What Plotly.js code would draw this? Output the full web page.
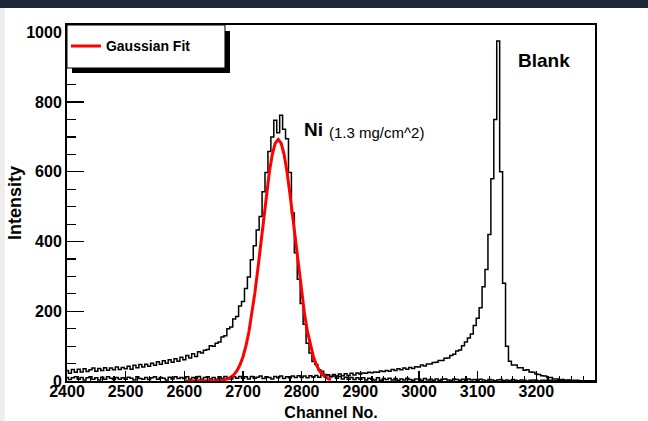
<!DOCTYPE html>
<html>
<head>
<meta charset="utf-8">
<script src="https://cdn.plot.ly/plotly-3.0.1.min.js"></script>
<style>html,body{margin:0;padding:0;background:#fff;}#chart{width:648px;height:421px;}</style>
</head>
<body>
<div id="chart"></div>
<script>
// Channel binning of the spectra (start channel, bin width)
const channelStart = 2400;
const channelStep = 5;

// Ni (1.3 mg/cm^2) spectrum, 2400..3300 in steps of 5 channels
const niCounts = [
  30,22,33,25,34,26,35,27,32,37, 28,36,30,38,31,37,32,40,33,39,
  35,42,34,45,38,47,40,48,42,51, 45,55,48,58,51,61,54,64,57,68,
  61,73,66,78,70,84,80,88,90,101, 100,108,112,126,130,150,155,178,185,215,
  228,265,298,348,388,433,472,543,598,658, 700,748,712,762,722,695,598,482,368,292,
  222,163,108,80,56,47,32,28,19,18, 12,14,8,13,6,11,5,10,4,9,
  5,9,3,8,5,3,9,2,7,4, 8,3,7,2,6,3,8,4,2,6,
  6,2,7,3,5,2,6,2,5,6, 3,2,6,4,2,5,2,6,3,4,
  2,5,3,1,4,3,1,3,4,1, 3,1,4,2,1,3,2,0,2,3,
  2,0,2,2,1,2,0,1,2,1, 1,2,0,1,0,1,1,0,1,0,
  1
];

// Blank spectrum, 2400..3300 in steps of 5 channels
const blankCounts = [
  10,4,9,12,5,10,3,9,12,5, 9,3,11,5,12,8,4,10,5,9,
  5,11,8,3,12,7,5,10,4,9, 12,5,10,8,3,11,6,12,7,10,
  7,12,5,10,7,13,5,10,12,6, 10,5,12,7,13,9,6,12,8,13,
  8,12,6,13,8,11,14,7,12,10, 6,13,9,14,7,12,9,14,10,15,
  10,14,9,15,11,16,11,17,12,18, 13,19,14,20,15,21,16,22,17,23,
  20,23,22,25,24,26,25,29,27,30, 28,33,30,35,32,37,34,39,36,41,
  40,46,43,49,49,53,54,59,59,65, 66,73,77,86,89,101,112,123,135,159,
  180,210,270,320,420,580,750,975,600,280, 100,57,46,46,38,38,31,32,26,25,
  20,19,15,14,10,10,6,6,3,4, 2,3,1,2,2,1,1,0,1,0,
  0
];

// Gaussian fit of the Ni peak, 2600..2850 in steps of 5 channels
const fitStart = 2600;
const fitValues = [
  0,0,0,0,0,0,0,0.03,0.07,0.15,
  0.31,0.63,1.2,2.2,3.9,6.9,11.7,19.1,30.4,46.7,
  69.7,100.6,140.7,190.5,249.8,317.2,390.1,464.8,537,600,
  650,682,693,682,650,600,537,464.8,390.1,317.2,
  249.8,190.5,140.7,100.6,69.7,46.7,30.4,19.1,11.7,6.9,
  3.9
];

const xTickVals = [2400,2500,2600,2700,2800,2900,3000,3100,3200];
const yTickVals = [0,200,400,600,800,1000];

const FONT = '"Liberation Sans", Arial, sans-serif';

const traces = [
  {x0: channelStart, dx: channelStep, y: niCounts, type: 'scatter', mode: 'lines',
   line: {color: '#000', width: 1.5, shape: 'hvh'}, showlegend: false, name: 'Ni'},
  {x0: channelStart, dx: channelStep, y: blankCounts, type: 'scatter', mode: 'lines',
   line: {color: '#000', width: 1.5, shape: 'hvh'}, showlegend: false, name: 'Blank'},
  {x0: fitStart, dx: channelStep, y: fitValues, type: 'scatter', mode: 'lines',
   line: {color: '#ff0000', width: 3}, name: 'Gaussian Fit'}
];

const layout = {
  width: 648, height: 421,
  margin: {l: 67, r: 53, t: 25, b: 40},
  paper_bgcolor: '#fff', plot_bgcolor: '#fff',
  font: {family: FONT, color: '#000'},
  xaxis: {
    range: [2400, 3300], tickmode: 'array', tickvals: xTickVals,
    ticks: 'inside', ticklen: 10, tickwidth: 1.2, tickcolor: '#000',
    minor: {dtick: 20, ticks: 'inside', ticklen: 5, tickwidth: 1.2, tickcolor: '#000'},
    showline: true, linecolor: '#000', linewidth: 2, mirror: true,
    showgrid: false, zeroline: false, ticklabelstandoff: -5,
    tickfont: {family: FONT, size: 16, weight: 'bold', color: '#000'},
    title: {text: 'Channel No.', font: {family: FONT, size: 16, weight: 'bold', color: '#000'}, standoff: 9}
  },
  yaxis: {
    range: [0, 1021], tickmode: 'array', tickvals: yTickVals,
    ticks: 'inside', ticklen: 17, tickwidth: 1.2, tickcolor: '#000',
    minor: {dtick: 50, ticks: 'inside', ticklen: 9, tickwidth: 1.2, tickcolor: '#000'},
    showline: true, linecolor: '#000', linewidth: 2, mirror: true,
    showgrid: false, zeroline: false,
    tickfont: {family: FONT, size: 16, weight: 'bold', color: '#000'},
    title: {text: 'Intensity', font: {family: FONT, size: 18, weight: 'bold', color: '#000'}, standoff: 0}
  },
  showlegend: true,
  legend: {x: -0.002, y: 0.94, xanchor: 'left', yanchor: 'middle', bgcolor: 'rgba(0,0,0,0)',
           borderwidth: 0, font: {family: FONT, size: 14, weight: 'bold', color: '#000'}},
  shapes: [
    {type: 'rect', xref: 'paper', yref: 'paper', x0: -0.127, x1: 1.1004, y0: 1.0478, y1: 1.0702,
     fillcolor: '#1c2738', line: {width: 0}, layer: 'above'},
    {type: 'rect', xref: 'paper', yref: 'paper', x0: -0.127, x1: -0.1174, y0: -0.1124, y1: 1.0478,
     fillcolor: '#eeeeee', line: {width: 0}, layer: 'above'},
    {type: 'rect', xref: 'paper', yref: 'paper', x0: 0.00947, x1: 0.3087, y0: 0.8652, y1: 0.9831,
     fillcolor: '#000', line: {width: 0}, layer: 'above'},
    {type: 'rect', xref: 'paper', yref: 'paper', x0: 0, x1: 0.2992, y0: 0.8792, y1: 1,
     fillcolor: '#fff', line: {color: '#000', width: 1}, layer: 'above'}
  ],
  annotations: [
    {x: 2800, y: 720, xref: 'x', yref: 'y', text: 'Ni', showarrow: false, xanchor: 'left', yanchor: 'middle',
     font: {family: FONT, size: 19, weight: 'bold', color: '#000'}},
    {x: 2843, y: 714, xref: 'x', yref: 'y', text: '(1.3 mg/cm^2)', showarrow: false, xanchor: 'left', yanchor: 'middle',
     font: {family: FONT, size: 15, color: '#000'}},
    {x: 3165, y: 918, xref: 'x', yref: 'y', text: 'Blank', showarrow: false, xanchor: 'left', yanchor: 'middle',
     font: {family: FONT, size: 19, weight: 'bold', color: '#000'}}
  ]
};

Plotly.newPlot('chart', traces, layout, {displayModeBar: false, staticPlot: true});
</script>
</body>
</html>
